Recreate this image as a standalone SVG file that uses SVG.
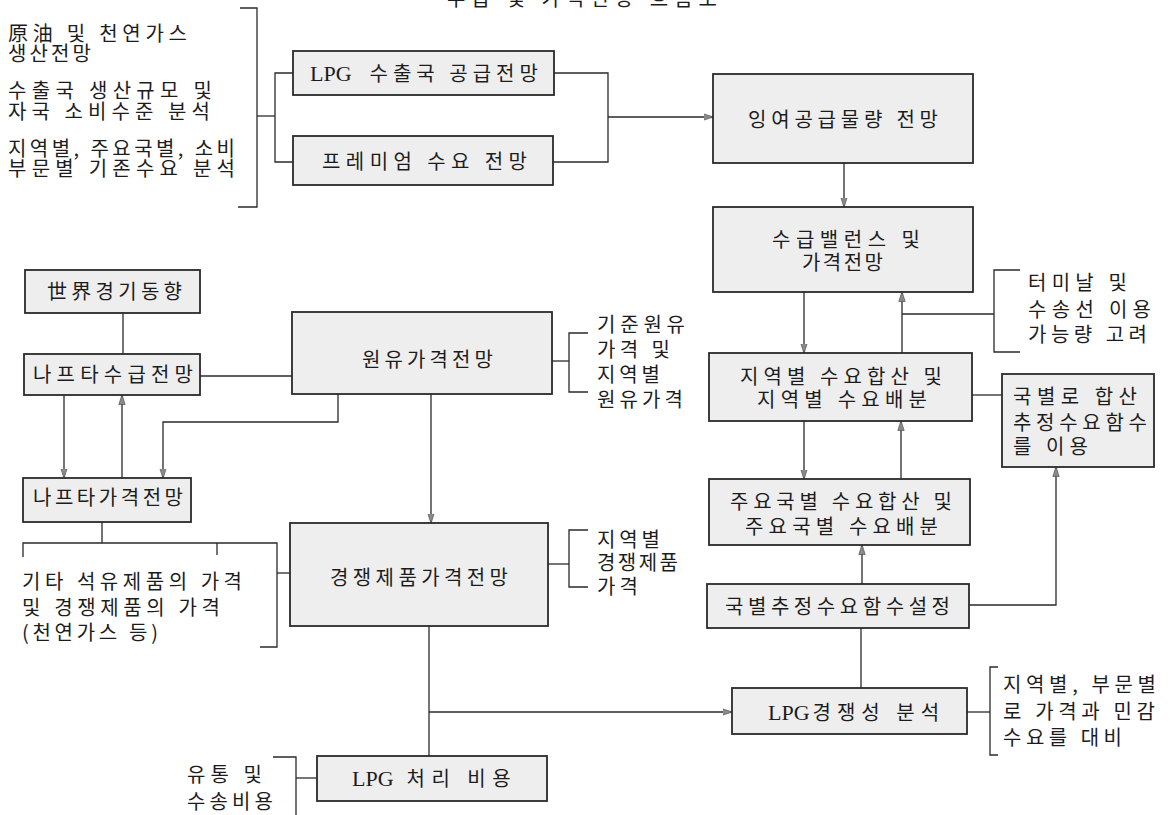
<svg xmlns="http://www.w3.org/2000/svg" width="1172" height="815" viewBox="0 0 1172 815">
<style>
.bg{fill:#ffffff}
.box{fill:#eeeeee;stroke:#2a2a2a;stroke-width:1.8}
.ln{fill:none;stroke:#2a2a2a;stroke-width:1.3}
.t{font-family:"Noto Sans CJK KR","Noto Sans",sans-serif;font-size:20px;fill:#1c1c1c}
.s{font-family:"Liberation Serif","Times New Roman",serif;font-size:22px}
</style>
<defs>
<marker id="ah" markerWidth="10" markerHeight="8" refX="9.5" refY="4" orient="auto" markerUnits="userSpaceOnUse">
<path d="M0,0.8 L10,4 L0,7.2 z" fill="#8a8a8a" stroke="#444" stroke-width="0.6"/>
</marker>
</defs>
<rect class="bg" x="0" y="0" width="1172" height="815"/>

<text class="t" x="447" y="6" textLength="270" lengthAdjust="spacing">수급 및 가격전망 흐름도</text>

<g id="connectors">
<path class="ln" d="M240,8 H257 V207 H238"/>
<path class="ln" d="M257,116 H275"/>
<path class="ln" d="M293,73 H275 V162 H293"/>
<path class="ln" d="M554,73 H608 V162 H553"/>
<path class="ln" d="M608,117 H713" marker-end="url(#ah)"/>
<path class="ln" d="M844,163 V207" marker-end="url(#ah)"/>
<path class="ln" d="M804,292 V353" marker-end="url(#ah)"/>
<path class="ln" d="M902,353 V292" marker-end="url(#ah)"/>
<path class="ln" d="M1020,270 H994 V352 H1020"/>
<path class="ln" d="M902,314 H994"/>
<path class="ln" d="M972,395 H1002"/>
<path class="ln" d="M804,421 V479" marker-end="url(#ah)"/>
<path class="ln" d="M901,479 V421" marker-end="url(#ah)"/>
<path class="ln" d="M862,584 V545" marker-end="url(#ah)"/>
<path class="ln" d="M969,605 H1056 V467" marker-end="url(#ah)"/>
<path class="ln" d="M861,628 V688"/>
<path class="ln" d="M967,712 H990"/>
<path class="ln" d="M998,667 H990 V755 H998"/>
<path class="ln" d="M123,313 V354"/>
<path class="ln" d="M200,376 H292"/>
<path class="ln" d="M64,395 V478" marker-end="url(#ah)"/>
<path class="ln" d="M122,478 V395" marker-end="url(#ah)"/>
<path class="ln" d="M338,394 V422 H163 V478" marker-end="url(#ah)"/>
<path class="ln" d="M431,394 V523" marker-end="url(#ah)"/>
<path class="ln" d="M552,361 H569"/>
<path class="ln" d="M588,333 H569 V392 H588"/>
<path class="ln" d="M548,564 H569"/>
<path class="ln" d="M588,530 H569 V587 H588"/>
<path class="ln" d="M102,522 V543"/>
<path class="ln" d="M23,557 V543 H277 V647 H260"/>
<path class="ln" d="M217,543 V555"/>
<path class="ln" d="M277,573 H290"/>
<path class="ln" d="M429,626 V756"/>
<path class="ln" d="M429,712 H732" marker-end="url(#ah)"/>
<path class="ln" d="M273,757 H296 V815"/>
<path class="ln" d="M296,778 H317"/>
</g>

<g id="note-supply">
<text class="t" x="8" y="41" textLength="179" lengthAdjust="spacing">原油 및 천연가스</text>
<text class="t" x="8" y="61" textLength="83" lengthAdjust="spacing">생산전망</text>
<text class="t" x="8" y="98" textLength="204" lengthAdjust="spacing">수출국 생산규모 및</text>
<text class="t" x="8" y="119" textLength="202" lengthAdjust="spacing">자국 소비수준 분석</text>
<text class="t" x="8" y="156" textLength="227" lengthAdjust="spacing">지역별, 주요국별, 소비</text>
<text class="t" x="8" y="176" textLength="227" lengthAdjust="spacing">부문별 기존수요 분석</text>
</g>

<g id="lpg-export">
<rect class="box" x="293" y="51" width="261" height="44"/>
<text class="t" x="310" y="81"><tspan class="s">LPG</tspan><tspan dx="18" letter-spacing="5">수출국 공급전망</tspan></text>
</g>
<g id="premium">
<rect class="box" x="293" y="136" width="260" height="49"/>
<text class="t" x="322" y="169" textLength="205" lengthAdjust="spacing">프레미엄 수요 전망</text>
</g>
<g id="surplus">
<rect class="box" x="713" y="74" width="260" height="89"/>
<text class="t" x="748" y="127" textLength="190" lengthAdjust="spacing">잉여공급물량 전망</text>
</g>
<g id="balance">
<rect class="box" x="713" y="207" width="260" height="85"/>
<text class="t" x="772" y="247" textLength="148" lengthAdjust="spacing">수급밸런스 및</text>
<text class="t" x="802" y="270" textLength="81" lengthAdjust="spacing">가격전망</text>
</g>
<g id="note-terminal">
<text class="t" x="1028" y="290" textLength="99" lengthAdjust="spacing">터미날 및</text>
<text class="t" x="1028" y="317" textLength="123" lengthAdjust="spacing">수송선 이용</text>
<text class="t" x="1028" y="342" textLength="119" lengthAdjust="spacing">가능량 고려</text>
</g>
<g id="regional">
<rect class="box" x="709" y="353" width="263" height="68"/>
<text class="t" x="740" y="384" textLength="202" lengthAdjust="spacing">지역별 수요합산 및</text>
<text class="t" x="757" y="407" textLength="170" lengthAdjust="spacing">지역별 수요배분</text>
</g>
<g id="country-sum">
<rect class="box" x="1002" y="374" width="152" height="93"/>
<text class="t" x="1013" y="404" textLength="124" lengthAdjust="spacing">국별로 합산</text>
<text class="t" x="1013" y="430" textLength="134" lengthAdjust="spacing">추정수요함수</text>
<text class="t" x="1013" y="454" textLength="75" lengthAdjust="spacing">를 이용</text>
</g>
<g id="major">
<rect class="box" x="709" y="479" width="261" height="66"/>
<text class="t" x="730" y="509" textLength="222" lengthAdjust="spacing">주요국별 수요합산 및</text>
<text class="t" x="745" y="534" textLength="193" lengthAdjust="spacing">주요국별 수요배분</text>
</g>
<g id="demand-fn">
<rect class="box" x="707" y="584" width="262" height="44"/>
<text class="t" x="725" y="614" textLength="225" lengthAdjust="spacing">국별추정수요함수설정</text>
</g>
<g id="competitiveness">
<rect class="box" x="732" y="688" width="235" height="46"/>
<text class="t" x="768" y="720"><tspan class="s">LPG</tspan><tspan dx="3" letter-spacing="6">경쟁성 분석</tspan></text>
</g>
<g id="note-compare">
<text class="t" x="1003" y="692" textLength="153" lengthAdjust="spacing">지역별, 부문별</text>
<text class="t" x="1003" y="719" textLength="152" lengthAdjust="spacing">로 가격과 민감</text>
<text class="t" x="1003" y="745" textLength="119" lengthAdjust="spacing">수요를 대비</text>
</g>
<g id="world">
<rect class="box" x="25" y="270" width="175" height="43"/>
<text class="t" x="47" y="299" textLength="135" lengthAdjust="spacing">世界경기동향</text>
</g>
<g id="naphtha-sd">
<rect class="box" x="24" y="354" width="176" height="41"/>
<text class="t" x="33" y="382" textLength="160" lengthAdjust="spacing">나프타수급전망</text>
</g>
<g id="naphtha-price">
<rect class="box" x="23" y="478" width="168" height="44"/>
<text class="t" x="33" y="505" textLength="150" lengthAdjust="spacing">나프타가격전망</text>
</g>
<g id="crude">
<rect class="box" x="292" y="312" width="260" height="82"/>
<text class="t" x="362" y="367" textLength="131" lengthAdjust="spacing">원유가격전망</text>
</g>
<g id="note-crude">
<text class="t" x="597" y="332" textLength="88" lengthAdjust="spacing">기준원유</text>
<text class="t" x="597" y="357" textLength="73" lengthAdjust="spacing">가격 및</text>
<text class="t" x="597" y="382" textLength="63" lengthAdjust="spacing">지역별</text>
<text class="t" x="597" y="407" textLength="86" lengthAdjust="spacing">원유가격</text>
</g>
<g id="competing">
<rect class="box" x="290" y="523" width="258" height="103"/>
<text class="t" x="330" y="585" textLength="178" lengthAdjust="spacing">경쟁제품가격전망</text>
</g>
<g id="note-competing">
<text class="t" x="597" y="547" textLength="63" lengthAdjust="spacing">지역별</text>
<text class="t" x="597" y="570" textLength="81" lengthAdjust="spacing">경쟁제품</text>
<text class="t" x="597" y="594" textLength="41" lengthAdjust="spacing">가격</text>
</g>
<g id="note-other">
<text class="t" x="22" y="589" textLength="220" lengthAdjust="spacing">기타 석유제품의 가격</text>
<text class="t" x="22" y="615" textLength="198" lengthAdjust="spacing">및 경쟁제품의 가격</text>
<text class="t" x="22" y="640" textLength="136" lengthAdjust="spacing">(천연가스 등)</text>
</g>
<g id="lpg-cost">
<rect class="box" x="317" y="756" width="230" height="45"/>
<text class="t" x="352" y="786"><tspan class="s">LPG</tspan><tspan dx="13" letter-spacing="6.5">처리 비용</tspan></text>
</g>
<g id="note-transport">
<text class="t" x="187" y="782" textLength="75" lengthAdjust="spacing">유통 및</text>
<text class="t" x="187" y="809" textLength="86" lengthAdjust="spacing">수송비용</text>
</g>
</svg>
